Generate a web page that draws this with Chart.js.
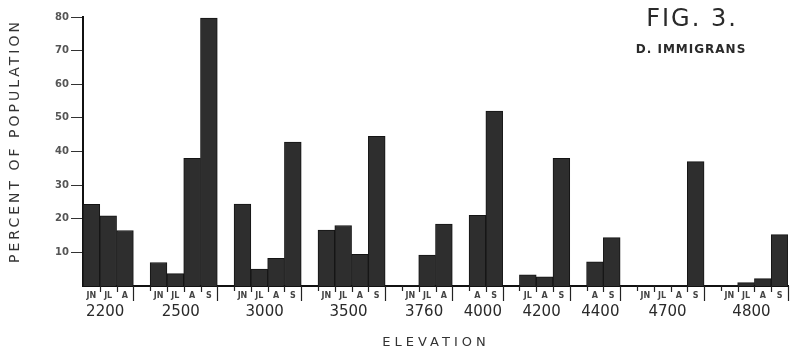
<!DOCTYPE html>
<html>
<head>
<meta charset="utf-8">
<script src="https://cdn.jsdelivr.net/npm/chart.js@4.4.0/dist/chart.umd.min.js"></script>
<style>
  html, body { margin: 0; padding: 0; background: #fff; }
  #wrap { width: 793px; height: 353px; position: relative; }
</style>
</head>
<body>
<div id="wrap"><canvas id="fig3"></canvas></div>
<script>
// Fig. 3 - D. immigrans, percent of population by month at each elevation

const elevations = ["2200", "2500", "3000", "3500", "3760", "4000", "4200", "4400", "4700", "4800"];

// months sampled at each elevation (JN = June, JL = July, A = August, S = September)
const groupMonths = [
    ["JN", "JL", "A"],
    ["JN", "JL", "A", "S"],
    ["JN", "JL", "A", "S"],
    ["JN", "JL", "A", "S"],
    ["JN", "JL", "A"],
    ["A", "S"],
    ["JL", "A", "S"],
    ["A", "S"],
    ["JN", "JL", "A", "S"],
    ["JN", "JL", "A", "S"]
];

// percent of population
const groupValues = [
    [24.3, 20.9, 16.5],
    [7.0, 3.7, 38, 79.7],
    [24.4, 5.0, 8.2, 42.8],
    [16.6, 18, 9.4, 44.5],
    [0, 9.2, 18.4],
    [21, 52],
    [3.3, 2.7, 38],
    [7.2, 14.4],
    [0, 0, 0, 37],
    [0, 1.0, 2.2, 15.3]
];

const yTickValues = [10, 20, 30, 40, 50, 60, 70, 80];

// aplanar en "slots" de categoría, con un slot vacío entre grupos de elevación
const slotLabels = [];
const slotValues = [];
const groupSlots = [];
elevations.forEach((elev, g) => {
    if (g > 0) { slotLabels.push(""); slotValues.push(null); }
    const first = slotLabels.length;
    groupMonths[g].forEach((m, i) => {
        slotLabels.push(m);
        slotValues.push(groupValues[g][i]);
    });
    groupSlots.push([first, slotLabels.length - 1]);
});

const FONT = "'DejaVu Sans', sans-serif";

// separadores, etiquetas de elevación y títulos con espaciado de letras
const figureDecor = {
    id: "figureDecor",
    afterDraw(chart) {
        const { ctx, chartArea } = chart;
        const x = chart.scales.x;
        const w = x.getPixelForValue(1) - x.getPixelForValue(0);
        const bottom = chartArea.bottom;

        ctx.save();
        ctx.strokeStyle = "#222";
        ctx.lineWidth = 1.2;
        groupSlots.forEach(([first, last], g) => {
            const tick = (px, len) => {
                ctx.beginPath();
                ctx.moveTo(Math.round(px) + 0.5, bottom);
                ctx.lineTo(Math.round(px) + 0.5, bottom + len);
                ctx.stroke();
            };
            if (g > 0) tick(x.getPixelForValue(first) - w / 2, 5);
            for (let i = first; i < last; i++) tick(x.getPixelForValue(i) + w / 2, 6);
            tick(x.getPixelForValue(last) + w / 2, 15);

            // etiqueta de elevación centrada bajo el grupo
            const cx = (x.getPixelForValue(first) + x.getPixelForValue(last)) / 2 - 3;
            ctx.fillStyle = "#2a2a2a";
            ctx.font = "15px " + FONT;
            ctx.textAlign = "center";
            ctx.textBaseline = "middle";
            ctx.fillText(elevations[g], cx, bottom + 26);
        });

        ctx.fillStyle = "#333";
        ctx.textAlign = "center";
        ctx.textBaseline = "middle";

        ctx.letterSpacing = "4px";
        ctx.font = "13px " + FONT;
        ctx.fillText("ELEVATION", 436, 343);

        ctx.save();
        ctx.translate(15, 141);
        ctx.rotate(-Math.PI / 2);
        ctx.letterSpacing = "3px";
        ctx.font = "14px " + FONT;
        ctx.fillText("PERCENT OF POPULATION", 0, 0);
        ctx.restore();

        ctx.fillStyle = "#2a2a2a";
        ctx.letterSpacing = "2px";
        ctx.font = "24px " + FONT;
        ctx.fillText("FIG. 3.", 692, 20);

        ctx.letterSpacing = "1px";
        ctx.font = "bold 12px " + FONT;
        ctx.fillText("D. IMMIGRANS", 691, 50);
        ctx.restore();
    }
};

new Chart(document.getElementById("fig3"), {
    type: "bar",
    data: {
        labels: slotLabels,
        datasets: [{
            data: slotValues,
            backgroundColor: "#2e2e2e",
            borderColor: "#141414",
            borderWidth: (c) => (c.raw ? 1 : 0),
            barPercentage: 1,
            categoryPercentage: 1
        }]
    },
    options: {
        responsive: true,
        maintainAspectRatio: false,
        animation: false,
        layout: { padding: { top: 17, right: 5, left: 0, bottom: 0 } },
        plugins: {
            legend: { display: false },
            tooltip: { enabled: false }
        },
        scales: {
            x: {
                grid: { display: false, drawTicks: false },
                border: { color: "#111", width: 2 },
                ticks: {
                    autoSkip: false,
                    maxRotation: 0,
                    padding: 5,
                    color: "#444",
                    font: { size: 8, weight: "bold", family: FONT }
                },
                afterFit: (s) => { s.height = 67; }
            },
            y: {
                min: 0,
                max: 80,
                border: { color: "#111", width: 2 },
                grid: { drawOnChartArea: false, tickLength: 12, color: "#333", lineWidth: 1 },
                ticks: {
                    padding: 2,
                    color: "#555",
                    font: { size: 10, weight: "bold", family: FONT }
                },
                afterBuildTicks: (s) => { s.ticks = yTickValues.map(v => ({ value: v })); },
                afterFit: (s) => { s.width = 83; }
            }
        }
    },
    plugins: [figureDecor]
});
</script>
</body>
</html>
